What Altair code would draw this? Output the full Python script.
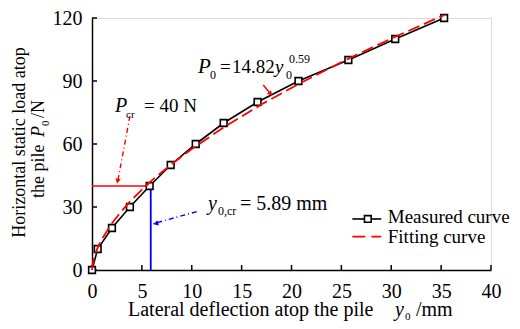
import altair as alt
import pandas as pd

# ---- data ----
measured_x = [0, 0.57, 2.0, 3.8, 5.78, 7.89, 10.4, 13.2, 16.6, 20.7, 25.7, 30.4, 35.3]
measured_y = [0, 10, 20, 30, 40, 50, 60, 70, 80, 90, 100, 110, 120]
fit_x = [0, 0.1, 0.3, 0.6, 1, 2, 3, 4, 6, 8, 10, 13, 17, 21, 26, 30, 35.3]
fit_y = [0, 3.8, 7.3, 11.0, 14.8, 22.3, 28.3, 33.6, 42.7, 50.5, 57.6, 67.3, 78.9, 89.3, 101.3, 110.2, 121.4]
x_ticks = [0, 5, 10, 15, 20, 25, 30, 35, 40]
y_ticks = [0, 30, 60, 90, 120]
p_cr = 40
y0_cr = 5.89

FONT = "Liberation Serif"
W, H = 399, 252
xs = alt.Scale(domain=[0, 40], nice=False, zero=False)
ys = alt.Scale(domain=[0, 120], nice=False, zero=False)

x_axis = alt.Axis(values=x_ticks, grid=False, ticks=False, domainColor="black", domainWidth=1.5,
                  labelFont=FONT, labelFontSize=20, labelColor="black", labelPadding=11,
                  labelFlush=False, title=None)
y_axis = alt.Axis(values=y_ticks, grid=False, ticks=False, domainColor="black", domainWidth=1.5,
                  labelFont=FONT, labelFontSize=20, labelColor="black", labelPadding=10,
                  labelFlush=False, title=None)


def X(field="x"):
    return alt.X(f"{field}:Q", scale=xs, axis=x_axis)


def Y(field="y"):
    return alt.Y(f"{field}:Q", scale=ys, axis=y_axis)


meas = pd.DataFrame({"x": measured_x, "y": measured_y})
fit = pd.DataFrame({"x": fit_x, "y": fit_y})

layers = []

# measured curve first (carries both axes)
layers.append(alt.Chart(meas).mark_line(color="black", strokeWidth=1.6).encode(x=X(), y=Y()))

# inward ticks
layers.append(alt.Chart(pd.DataFrame({"x": x_ticks})).mark_rule(color="black", strokeWidth=1.5).encode(
    x=X("x"), y=alt.value(H), y2=alt.value(H - 5)))
layers.append(alt.Chart(pd.DataFrame({"y": y_ticks})).mark_rule(color="black", strokeWidth=1.5).encode(
    y=Y("y"), x=alt.value(0), x2=alt.value(5)))

# critical lines
layers.append(alt.Chart(pd.DataFrame({"x": [0], "x2": [y0_cr], "y": [p_cr]})).mark_rule(
    color="#ff0000", strokeWidth=1.6).encode(x=X("x"), x2="x2:Q", y=Y("y")))
layers.append(alt.Chart(pd.DataFrame({"x": [y0_cr], "y": [0], "y2": [p_cr]})).mark_rule(
    color="#0000ff", strokeWidth=1.8).encode(x=X("x"), y=Y("y"), y2="y2:Q"))

layers.append(alt.Chart(meas).mark_point(shape="square", size=45, filled=False, fill="white",
                                          fillOpacity=1, color="black", strokeWidth=1.6, opacity=1).encode(x=X(), y=Y()))
# fitting curve
layers.append(alt.Chart(fit).mark_line(color="#ff0000", strokeWidth=1.8, strokeDash=[12, 5]).encode(x=X(), y=Y()))


def arrow(x1, y1, x2, y2, hx, hy, angle, color, dash=None):
    df = pd.DataFrame({"x": [x1], "y": [y1], "x2": [x2], "y2": [y2]})
    kw = dict(color=color, strokeWidth=1.4)
    if dash:
        kw["strokeDash"] = dash
    line = alt.Chart(df).mark_rule(**kw).encode(x=X("x"), y=Y("y"), x2="x2:Q", y2="y2:Q")
    head = alt.Chart(pd.DataFrame({"x": [hx], "y": [hy]})).mark_point(
        shape="triangle-up", filled=True, size=30, color=color, angle=angle, opacity=1).encode(x=X(), y=Y())
    return [line, head]


layers += arrow(3.8, 73.3, 2.55, 41.5, 2.57, 42.3, 191, "#ff0000", [5, 3, 1, 3])
layers += arrow(10.5, 27.8, 6.1, 22.0, 6.4, 22.1, 255, "#0000ff", [5, 3, 1, 3])
layers += arrow(17.17, 88.1, 17.95, 83.6, 17.9, 83.9, 138, "#ff0000")


def txt(x, y, s, size, dx=0, dy=0, italic=False, baseline="alphabetic"):
    kw = dict(font=FONT, fontSize=size, color="black", align="left", baseline=baseline, dx=dx, dy=dy)
    if italic:
        kw["fontStyle"] = "italic"
    return alt.Chart(pd.DataFrame({"x": [x], "y": [y], "t": [s]})).mark_text(**kw).encode(
        x=X(), y=Y(), text="t:N")


def ptxt(px, py, s, size, dx=0, dy=0, italic=False, angle=0, align="left"):
    kw = dict(font=FONT, fontSize=size, color="black", align=align, baseline="alphabetic",
              dx=dx, dy=dy, angle=angle)
    if italic:
        kw["fontStyle"] = "italic"
    return alt.Chart(pd.DataFrame({"t": [s]})).mark_text(**kw).encode(
        x=alt.value(px), y=alt.value(py), text="t:N")


# P_cr = 40 N
ax, ay = 2.31, 75.4
layers += [txt(ax, ay, "P", 20, italic=True), txt(ax, ay, "cr", 11, dx=11, dy=6),
           txt(ax, ay, "= 40 N", 19, dx=29)]
# y0,cr = 5.89 mm
ax, ay = 11.63, 28.6
layers += [txt(ax, ay, "y", 20, italic=True), txt(ax, ay, "0,cr", 12, dx=10, dy=5),
           txt(ax, ay, "= 5.89 mm", 20, dx=32)]
# P0 = 14.82 y0^0.59
ax, ay = 10.63, 93.8
layers += [txt(ax, ay, "P", 21, italic=True), txt(ax, ay, "0", 12, dx=12, dy=6),
           txt(ax, ay, "=", 19, dx=22), txt(ax, ay, "14.82", 19, dx=34),
           txt(ax, ay, "y", 19, dx=77, italic=True),
           txt(ax, ay, "0", 12, dx=88, dy=6), txt(ax, ay, "0.59", 12, dx=91, dy=-10)]

# legend
leg_line = pd.DataFrame({"x": [26.1], "x2": [29.0], "y": [24.3]})
layers.append(alt.Chart(leg_line).mark_rule(color="black", strokeWidth=1.6).encode(x=X(), x2="x2:Q", y=Y()))
layers.append(alt.Chart(pd.DataFrame({"x": [27.65], "y": [24.3]})).mark_point(
    shape="square", size=45, filled=False, fill="white", fillOpacity=1, color="black",
    strokeWidth=1.6, opacity=1).encode(x=X(), y=Y()))
leg_fit = pd.DataFrame({"x": [26.1], "x2": [29.0], "y": [15.9]})
layers.append(alt.Chart(leg_fit).mark_rule(color="#ff0000", strokeWidth=1.8, strokeDash=[13, 6]).encode(
    x=X(), x2="x2:Q", y=Y()))
layers += [txt(29.65, 22.2, "Measured curve", 19), txt(29.65, 12.7, "Fitting curve", 19)]

# x axis title (pixel offsets from plot origin)
layers += [ptxt(36, 298, "Lateral deflection atop the pile", 20),
           ptxt(303, 298, "y", 20, italic=True),
           ptxt(313, 302, "0", 11),
           ptxt(324, 298, "/mm", 20)]
# y axis title (rotated)
layers += [ptxt(-67.5, 124.5, "Horizontal static load atop", 18, angle=270, align="center"),
           ptxt(-48.5, 180, "the pile ", 18, angle=270),
           ptxt(-48.5, 180, "P", 18, dx=61, angle=270, italic=True),
           ptxt(-48.5, 180, "0", 11, dx=72, dy=5, angle=270),
           ptxt(-48.5, 180, "/N", 18, dx=80, angle=270)]

chart = alt.layer(*layers).properties(
    width=W, height=H,
    autosize=alt.AutoSizeParams(type="none"),
    padding={"left": 84, "top": 10, "right": 21, "bottom": 51},
).configure_view(stroke=None).configure(background="white")

chart.save("out.html", embed_options={"renderer": "svg", "actions": False})
